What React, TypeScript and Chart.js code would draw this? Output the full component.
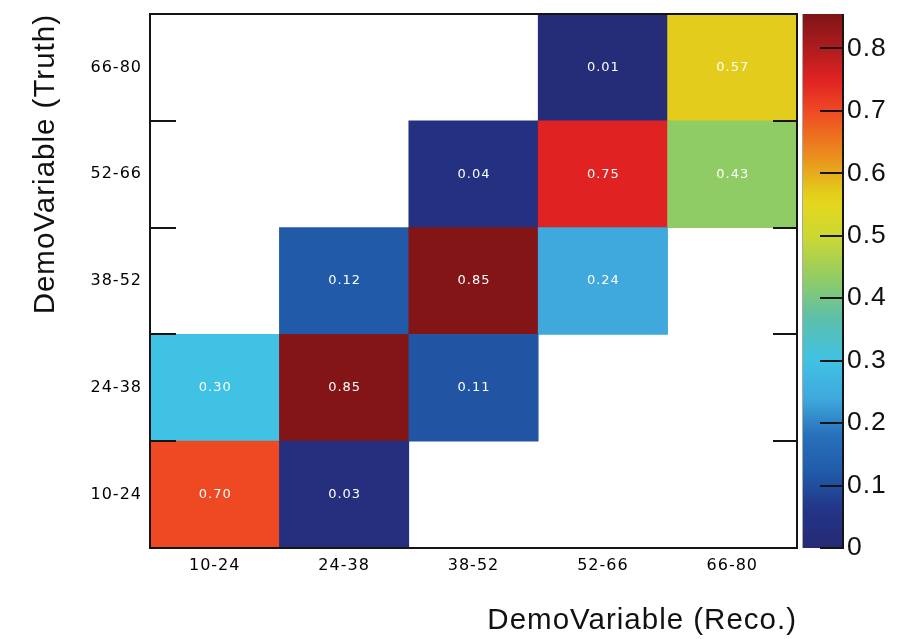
import { useEffect, useRef } from 'react';
import { Chart, registerables } from 'chart.js';

Chart.register(...registerables);

// Bin labels (reco on x, truth on y)
const recoBins = ['10-24', '24-38', '38-52', '52-66', '66-80'];
const truthBins = ['10-24', '24-38', '38-52', '52-66', '66-80'];

// Migration fractions, one array per truth bin, indexed by reco bin
const truth10to24 = [0.70, 0.03, null, null, null];
const truth24to38 = [0.30, 0.85, 0.11, null, null];
const truth38to52 = [null, 0.12, 0.85, 0.24, null];
const truth52to66 = [null, null, 0.04, 0.75, 0.43];
const truth66to80 = [null, null, null, 0.01, 0.57];
const migrationRows: (number | null)[][] = [truth10to24, truth24to38, truth38to52, truth52to66, truth66to80];

// Colour axis
const zMin = 0;
const zMax = 0.855;
const zStep = 0.1;

const xTitle = 'DemoVariable (Reco.)';
const yTitle = 'DemoVariable (Truth)';

// Palette stops: [value, [r, g, b]]
const paletteStops: [number, number[]][] = [
  [0.0, [37, 42, 117]],
  [0.06, [36, 52, 135]],
  [0.12, [32, 90, 168]],
  [0.18, [40, 112, 186]],
  [0.24, [63, 169, 221]],
  [0.3, [63, 194, 228]],
  [0.37, [94, 192, 168]],
  [0.43, [144, 204, 102]],
  [0.5, [205, 216, 50]],
  [0.55, [228, 214, 30]],
  [0.57, [227, 204, 28]],
  [0.63, [235, 140, 30]],
  [0.7, [239, 73, 35]],
  [0.75, [224, 34, 34]],
  [0.8, [175, 28, 30]],
  [0.855, [127, 20, 22]],
];

function paletteColor(v: number): string {
  const t = Math.max(zMin, Math.min(zMax, v));
  for (let i = 1; i < paletteStops.length; i++) {
    const [v1, c1] = paletteStops[i];
    const [v0, c0] = paletteStops[i - 1];
    if (t <= v1) {
      const f = (t - v0) / (v1 - v0 || 1);
      const c = c0.map((ch, k) => Math.round(ch + (c1[k] - ch) * f));
      return `rgb(${c[0]},${c[1]},${c[2]})`;
    }
  }
  const last = paletteStops[paletteStops.length - 1][1];
  return `rgb(${last[0]},${last[1]},${last[2]})`;
}

const heatmapDecor = {
  id: 'heatmapDecor',
  beforeDraw(chart: any) {
    chart.ctx.letterSpacing = '1px';
  },
  beforeDatasetsDraw(chart: any) {
    chart.ctx.letterSpacing = '0px';
  },
  afterDatasetsDraw(chart: any) {
    const ctx = chart.ctx as CanvasRenderingContext2D;
    const { left, right, top, bottom } = chart.chartArea;
    const xs = chart.scales.x;
    const ys = chart.scales.y;
    const zs = chart.scales.z;

    ctx.save();
    // cell value labels
    ctx.fillStyle = '#ffffff';
    ctx.font = '13px "DejaVu Sans"';
    (ctx as any).letterSpacing = '1px';
    ctx.textAlign = 'center';
    ctx.textBaseline = 'middle';
    migrationRows.forEach((row, r) => {
      row.forEach((v, c) => {
        if (v == null) return;
        const px = xs.getPixelForValue(c) + 0.5;
        const py = ys.getPixelForValue(r + 0.5);
        ctx.fillText(v.toFixed(2), px, py);
      });
    });
    (ctx as any).letterSpacing = '0px';

    // frame
    ctx.strokeStyle = '#151515';
    ctx.lineWidth = 2;
    ctx.strokeRect(left, top, right - left, bottom - top);

    // bin boundary ticks on left and right edges
    ctx.beginPath();
    for (let b = 1; b < truthBins.length; b++) {
      const y = Math.round(ys.getPixelForValue(b));
      ctx.moveTo(left, y);
      ctx.lineTo(left + 26, y);
      ctx.moveTo(right, y);
      ctx.lineTo(right - 24, y);
    }
    ctx.stroke();

    // colour bar
    const x0 = right + 5;
    const x1 = right + 46;
    const yTop = zs.getPixelForValue(zMax);
    const yBot = zs.getPixelForValue(zMin);
    const grad = ctx.createLinearGradient(0, yBot, 0, yTop);
    paletteStops.forEach(([v, c]) => {
      grad.addColorStop((v - zMin) / (zMax - zMin), `rgb(${c[0]},${c[1]},${c[2]})`);
    });
    ctx.fillStyle = grad;
    ctx.fillRect(x0, yTop, x1 - x0, yBot - yTop);
    ctx.strokeStyle = '#aaaaaa';
    ctx.lineWidth = 1;
    ctx.beginPath();
    ctx.moveTo(x0 + 0.5, yTop);
    ctx.lineTo(x0 + 0.5, yBot);
    ctx.stroke();
    ctx.strokeStyle = '#151515';
    ctx.lineWidth = 2;
    ctx.beginPath();
    ctx.moveTo(x1, yTop);
    ctx.lineTo(x1, yBot + 1);
    zs.ticks.forEach((t: any) => {
      const y = Math.round(zs.getPixelForValue(t.value));
      ctx.moveTo(x1 - 23, y);
      ctx.lineTo(x1, y);
    });
    ctx.stroke();
    ctx.restore();
  },
};

function noPadding(s: any) {
  s.paddingTop = 0;
  s.paddingBottom = 0;
  s.paddingLeft = 0;
  s.paddingRight = 0;
}

export default function App() {
  const canvasRef = useRef<HTMLCanvasElement | null>(null);

  useEffect(() => {
    const canvas = canvasRef.current;
    if (!canvas) return;

    const datasets = migrationRows.map((row, r) => ({
      label: truthBins[r],
      data: row.map((v) => (v == null ? null : [r, r + 1])),
      backgroundColor: row.map((v) => (v == null ? 'rgba(0,0,0,0)' : paletteColor(v))),
      borderWidth: 0,
      grouped: false,
      barPercentage: 1,
      categoryPercentage: 1,
    }));

    const tickFont = { family: '"DejaVu Sans"', size: 16 };
    const titleFont = { family: '"Liberation Sans"', size: 29.5 };

    const chart = new Chart(canvas, {
      type: 'bar',
      data: { labels: recoBins, datasets: datasets as any },
      options: {
        responsive: false,
        maintainAspectRatio: false,
        animation: false,
        devicePixelRatio: 1,
        layout: { padding: { top: 14, left: 0, right: 0, bottom: 0 } },
        plugins: { legend: { display: false }, tooltip: { enabled: false } },
        scales: {
          x: {
            type: 'category',
            offset: true,
            grid: { display: false, drawTicks: false },
            border: { display: false },
            ticks: { font: tickFont, color: '#000', padding: 8, maxRotation: 0, autoSkip: false },
            title: {
              display: true,
              text: xTitle,
              align: 'end',
              color: '#111',
              font: titleFont,
              padding: { top: 0, bottom: 0 },
            },
            afterFit: (s: any) => {
              s.height = 91;
              noPadding(s);
            },
          },
          y: {
            type: 'linear',
            min: 0,
            max: truthBins.length,
            grid: { display: false, drawTicks: false },
            border: { display: false },
            afterBuildTicks: (s: any) => {
              s.ticks = truthBins.map((_, i) => ({ value: i + 0.5 }));
            },
            ticks: {
              font: tickFont,
              color: '#000',
              padding: 8,
              autoSkip: false,
              callback: (v: any) => truthBins[Math.floor(Number(v))],
            },
            title: {
              display: true,
              text: yTitle,
              align: 'end',
              color: '#111',
              font: titleFont,
              padding: { top: 28, bottom: 0 },
            },
            afterFit: (s: any) => {
              s.width = 150;
              noPadding(s);
            },
          },
          z: {
            type: 'linear',
            position: 'right',
            min: zMin,
            max: zMax,
            grid: { display: false, drawTicks: true, tickLength: 46 },
            border: { display: false },
            ticks: {
              stepSize: zStep,
              includeBounds: false,
              padding: 4,
              color: '#111',
              font: { family: '"Liberation Sans"', size: 26.5 },
              callback: (v: any) => (Number(v) === 0 ? '0' : Number(v).toFixed(1)),
            },
            afterFit: (s: any) => {
              s.width = 117;
              noPadding(s);
            },
          },
        },
      },
      plugins: [heatmapDecor],
    });

    return () => chart.destroy();
  }, []);

  return (
    <div style={{ position: 'fixed', left: 0, top: 0, width: 914, height: 639, background: '#fff' }}>
      <canvas ref={canvasRef} width={914} height={639} style={{ display: 'block', width: 914, height: 639 }} />
    </div>
  );
}
